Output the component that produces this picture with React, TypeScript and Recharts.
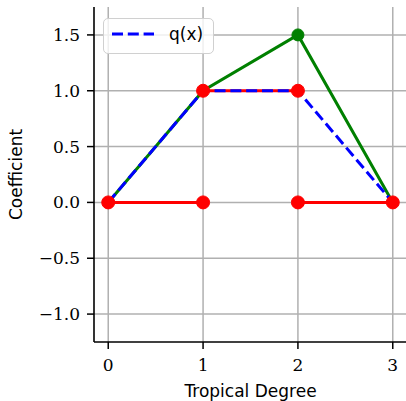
import React from 'react';
import { LineChart, Line, XAxis, YAxis, CartesianGrid, Legend } from 'recharts';

// polynomial pieces, x = tropical degree, y = coefficient
const degrees = [0, 1, 2, 3];
const pCoeffs = [0, 1, 1.5, 0];
const qCoeffs = [0, 1, 1, 0];
const redSegments = [
  [{ x: 0, y: 0 }, { x: 1, y: 0 }],
  [{ x: 2, y: 0 }, { x: 3, y: 0 }],
  [{ x: 1, y: 1 }, { x: 2, y: 1 }],
];
const peakPoint = [{ x: 2, y: 1.5 }];
const xTicks = [0, 1, 2, 3];
const yTicks = [-1, -0.5, 0, 0.5, 1, 1.5];

const pData = degrees.map((x, i) => ({ x, y: pCoeffs[i] }));
const qData = degrees.map((x, i) => ({ x, y: qCoeffs[i] }));

const fmtY = (v: number) => (v < 0 ? '\u2212' + Math.abs(v).toFixed(1) : v.toFixed(1));

const tickFont = { fill: '#000', fontSize: 17, fontFamily: 'DejaVu Serif' };
const labelFont = { fill: '#000', fontSize: 17, fontFamily: 'DejaVu Sans' };

function LegendBox() {
  return (
    <div style={{ position: 'absolute', left: 103, top: 18, width: 109, height: 34, border: '1.5px solid #d0d0d0', borderRadius: 5, background: 'rgba(255,255,255,0.8)' }}>
      <svg width={109} height={34} style={{ position: 'absolute', left: 0, top: 0 }}>
        <line x1={8} y1={15} x2={50} y2={15} stroke="#0000ff" strokeWidth={3} strokeDasharray="11 4.8" />
        <text x={65} y={21} fontSize={17} fontFamily="DejaVu Sans" fill="#000">q(x)</text>
      </svg>
    </div>
  );
}

export default function App() {
  return (
    <div style={{ position: 'absolute', left: 0, top: 0, width: 406, height: 401, overflow: 'hidden', background: '#fff' }}>
      <LineChart width={407} height={401} margin={{ top: 7, right: 0, bottom: 0, left: 0 }}>
        <CartesianGrid stroke="#b0b0b0" strokeWidth={1.5} horizontalValues={yTicks} verticalValues={xTicks} />
        <XAxis type="number" dataKey="x" domain={[-0.15, 3.15]} ticks={xTicks} allowDataOverflow height={59}
          tick={tickFont} tickLine={{ stroke: '#000', strokeWidth: 1.5 }} tickSize={7} tickMargin={10} axisLine={{ stroke: '#000', strokeWidth: 1.6 }}
          label={{ value: 'Tropical Degree', position: 'insideBottom', offset: 4, style: labelFont }} />
        <YAxis type="number" dataKey="y" domain={[-1.25, 1.75]} ticks={yTicks} allowDataOverflow width={94}
          tickFormatter={fmtY} tick={tickFont} tickLine={{ stroke: '#000', strokeWidth: 1.5 }} tickSize={7} tickMargin={7} axisLine={{ stroke: '#000', strokeWidth: 1.6 }}
          label={{ value: 'Coefficient', angle: -90, position: 'insideLeft', offset: 16, style: { ...labelFont, textAnchor: 'middle' } }} />
        <Line data={pData} dataKey="y" stroke="#008000" strokeWidth={3} dot={false} isAnimationActive={false} legendType="none" />
        <Line data={peakPoint} dataKey="y" stroke="#008000" dot={{ r: 6, fill: '#008000', stroke: '#008000', strokeWidth: 1 }} isAnimationActive={false} legendType="none" />
        {redSegments.map((seg, i) => (
          <Line key={i} data={seg} dataKey="y" stroke="#ff0000" strokeWidth={3} dot={{ r: 6.5, fill: '#ff0000', stroke: '#ff0000', strokeWidth: 1 }} isAnimationActive={false} legendType="none" />
        ))}
        <Line data={qData} dataKey="y" stroke="#0000ff" strokeWidth={3} strokeDasharray="11 4.8" dot={false} isAnimationActive={false} legendType="none" />
        <Legend content={() => null} />
      </LineChart>
      <LegendBox />
    </div>
  );
}
